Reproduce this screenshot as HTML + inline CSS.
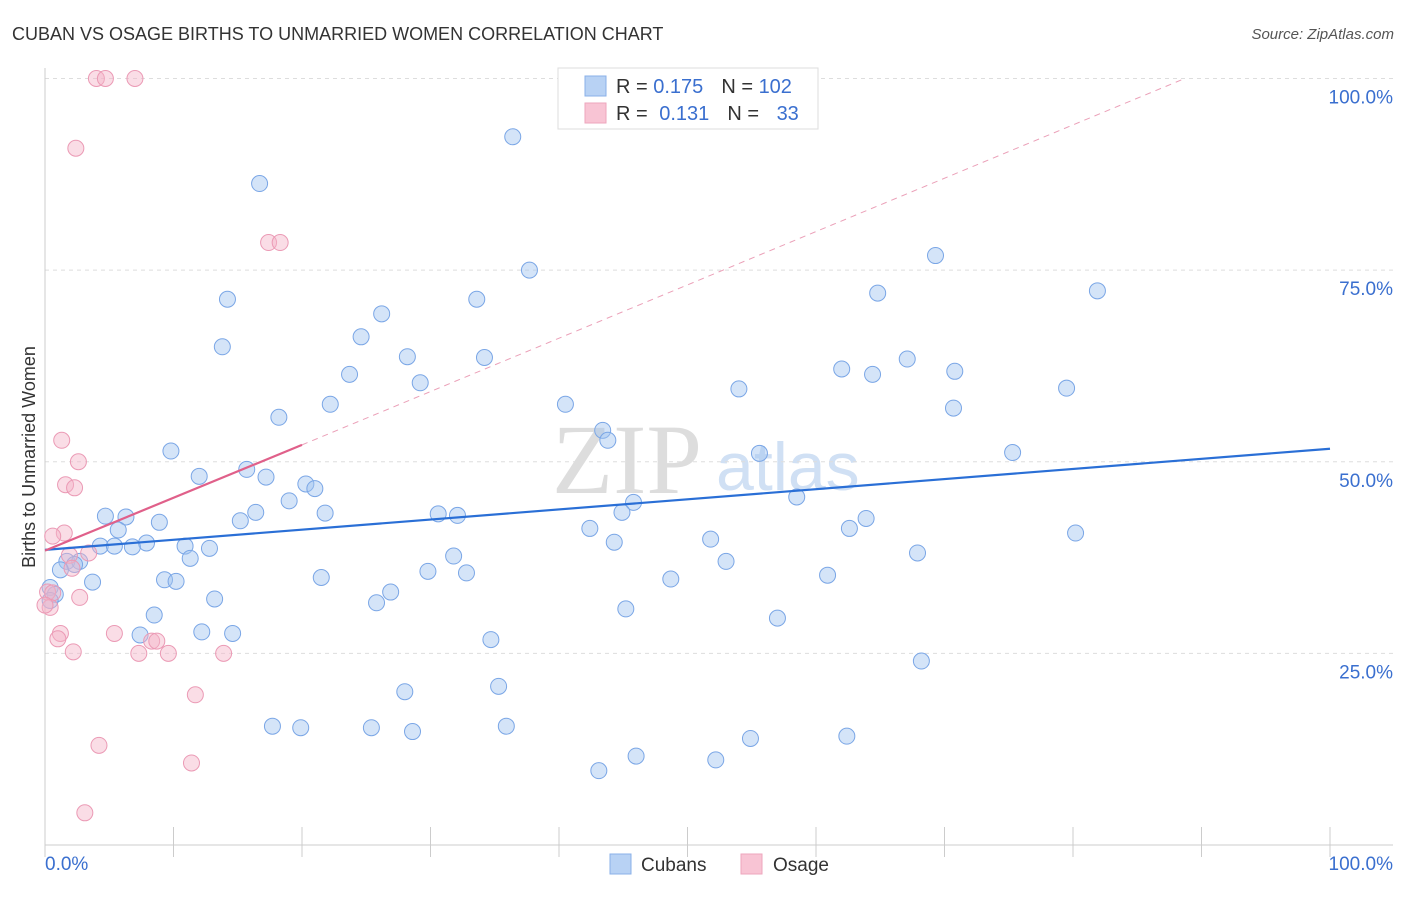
<!DOCTYPE html>
<html><head><meta charset="utf-8"><style>
body{margin:0;background:#fff;font-family:"Liberation Sans",sans-serif;}
svg text{font-family:"Liberation Sans",sans-serif;}
</style></head><body>
<svg width="1406" height="892">
<text x="12" y="40" font-size="18" fill="#333">CUBAN VS OSAGE BIRTHS TO UNMARRIED WOMEN CORRELATION CHART</text>
<text x="1394" y="39" font-size="15" fill="#555" font-style="italic" text-anchor="end">Source: ZipAtlas.com</text>
<text x="35" y="457" font-size="18" fill="#333" transform="rotate(-90 35 457)" text-anchor="middle">Births to Unmarried Women</text>
<text x="552" y="493" font-size="100" fill="#ddd" style="font-family:'Liberation Serif',serif">ZIP</text>
<text x="716" y="490" font-size="68" fill="#d0e0f4">atlas</text>
<g id="grid"></g><g id="axes"></g><g id="pts"></g><g id="lines"></g>
<rect x="558" y="68" width="260" height="61" fill="#fff" stroke="#ddd"/>
<rect x="585" y="76" width="21" height="20" fill="#b8d2f4" stroke="#8ab0e8"/>
<rect x="585" y="103" width="21" height="20" fill="#f8c4d4" stroke="#eea6bd"/>
<text x="616" y="93" font-size="20" fill="#333">R = <tspan fill="#3a6fcf">0.175</tspan><tspan dx="18">N = </tspan><tspan fill="#3a6fcf">102</tspan></text>
<text x="616" y="120" font-size="20" fill="#333">R = <tspan fill="#3a6fcf" dx="6">0.131</tspan><tspan dx="18">N = </tspan><tspan fill="#3a6fcf" dx="12">33</tspan></text>
<rect x="610" y="854" width="21" height="20" fill="#b8d2f4" stroke="#8ab0e8"/>
<text x="641" y="871" font-size="19" fill="#333">Cubans</text>
<rect x="741" y="854" width="21" height="20" fill="#f8c4d4" stroke="#eea6bd"/>
<text x="773" y="871" font-size="19" fill="#333">Osage</text>
</svg>
<script>
const yTicks=[25,50,75,100];
const yTickLabels=["25.0%","50.0%","75.0%","100.0%"];
const xTickLabels=["0.0%","100.0%"];
const cubanX=[36.4,16.7,69.3,37.7,81.9,64.8,14.2,33.6,26.2,24.6,13.8,28.2,34.2,67.1,62.0,64.4,70.8,23.7,29.2,54.0,79.5,40.5,22.2,70.7,18.2,43.4,43.8,9.8,55.6,75.3,15.7,12.0,17.2,20.3,21.0,19.0,45.8,58.5,44.9,16.4,21.8,30.6,32.1,4.7,6.3,15.2,8.9,63.9,62.6,42.4,80.2,51.8,44.3,5.7,7.9,4.3,5.4,6.8,10.9,12.8,11.3,67.9,31.8,53.0,1.7,2.7,2.3,1.2,3.7,21.5,29.8,32.8,9.3,10.2,48.7,60.9,26.9,0.4,0.8,0.4,13.2,25.8,45.2,8.5,57.0,7.4,12.2,14.6,34.7,68.2,28.0,35.3,17.7,19.9,25.4,28.6,35.9,54.9,62.4,46.0,52.2,43.1];
const cubanY=[92.4,86.3,76.9,75.0,72.3,72.0,71.2,71.2,69.3,66.3,65.0,63.7,63.6,63.4,62.1,61.4,61.8,61.4,60.3,59.5,59.6,57.5,57.5,57.0,55.8,54.1,52.8,51.4,51.1,51.2,49.0,48.1,48.0,47.1,46.5,44.9,44.7,45.4,43.4,43.4,43.3,43.2,43.0,42.9,42.8,42.3,42.1,42.6,41.3,41.3,40.7,39.9,39.5,41.1,39.4,39.0,39.0,38.9,39.0,38.7,37.4,38.1,37.7,37.0,37.0,37.0,36.6,35.9,34.3,34.9,35.7,35.5,34.6,34.4,34.7,35.2,33.0,33.6,32.7,31.9,32.1,31.6,30.8,30.0,29.6,27.4,27.8,27.6,26.8,24.0,20.0,20.7,15.5,15.3,15.3,14.8,15.5,13.9,14.2,11.6,11.1,9.7];
const osageX=[4.0,4.7,7.0,2.4,17.4,18.3,1.3,2.6,1.6,2.3,1.5,0.6,1.9,3.4,2.1,0.2,0.6,0.4,2.7,1.2,1.0,5.4,8.3,8.7,2.2,7.3,9.6,13.9,11.7,4.2,11.4,3.1,0.0];
const osageY=[100,100,100,90.9,78.6,78.6,52.8,50.0,47.0,46.6,40.7,40.3,37.8,38.1,36.1,33.0,32.9,31.0,32.3,27.6,26.9,27.6,26.6,26.6,25.2,25.0,25.0,25.0,19.6,13.0,10.7,4.2,31.3];
const NS="http://www.w3.org/2000/svg";
const X=v=>45+v*12.85, Y=v=>845-v*7.665;
function mk(t,a,p){const e=document.createElementNS(NS,t);for(const k in a)e.setAttribute(k,a[k]);document.getElementById(p).appendChild(e);return e;}
yTicks.forEach((t,i)=>{
 const g=mk('line',{x1:45,x2:1393,y1:Y(t),y2:Y(t),stroke:'#ddd','stroke-dasharray':'4,4'},'grid');
 
 
 const l=mk('text',{x:1393,y:Y(t)+25,'font-size':19,fill:'#3a6fcf','text-anchor':'end'},'axes');
 l.textContent=yTickLabels[i];
 
 
});
const ax=mk('line',{x1:45,x2:45,y1:68,y2:845,stroke:'#ccc'},'axes');


const bx=mk('line',{x1:45,x2:1393,y1:845,y2:845,stroke:'#ccc'},'axes');


for(let i=0;i<=10;i++){const t=mk('line',{x1:X(i*10),x2:X(i*10),y1:827,y2:857,stroke:'#ccc'},'axes');
 
 }
[[0,'start',45],[100,'end',1393]].forEach((d,i)=>{const t=mk('text',{x:d[2],y:870,'font-size':19,fill:'#3a6fcf','text-anchor':d[1]},'axes');t.textContent=xTickLabels[i];
 
 });
cubanX.forEach((v,i)=>{const c=mk('circle',{cx:X(v),cy:Y(cubanY[i]),r:8,fill:'rgba(160,195,240,0.45)',stroke:'#7aa6e6','stroke-width':1},'pts');
 
 });
osageX.forEach((v,i)=>{const c=mk('circle',{cx:X(v),cy:Y(osageY[i]),r:8,fill:'rgba(245,180,200,0.45)',stroke:'#eb9ab5','stroke-width':1},'pts');
 
 });
const l1=mk('line',{x1:X(0),y1:Y(38.5),x2:X(100),y2:Y(51.7),stroke:'#2a6fd6','stroke-width':2.2},'lines');


const l2=mk('line',{x1:X(0),y1:Y(38.4),x2:X(20),y2:Y(52.2),stroke:'#e0608a','stroke-width':2.2},'lines');


const l3=mk('line',{x1:X(20),y1:Y(52.2),x2:X(88.7),y2:Y(100),stroke:'#eba0b8','stroke-width':1,'stroke-dasharray':'6,5'},'lines');


</script>
</body></html>
